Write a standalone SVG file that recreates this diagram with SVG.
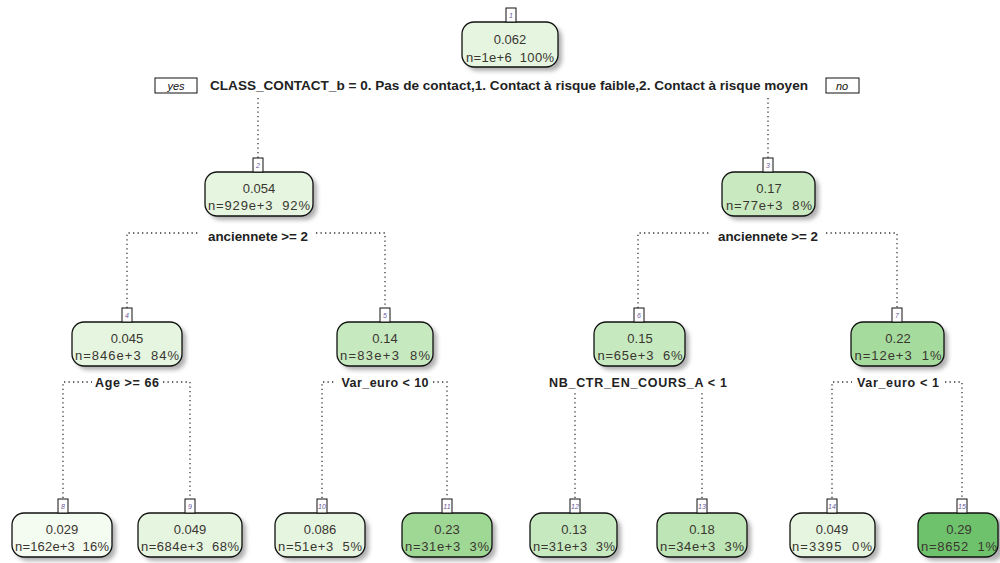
<svg xmlns="http://www.w3.org/2000/svg" width="1000" height="563" viewBox="0 0 1000 563">
<defs>
<filter id="blur" x="-20%" y="-20%" width="140%" height="140%"><feGaussianBlur stdDeviation="2"/></filter>
<style>
.bx{stroke:#111;stroke-width:1.3}
.sh{fill:#b0b0b0;filter:url(#blur)}
.nb{fill:#fff;stroke:#111;stroke-width:1}
.nn{font-family:"Liberation Sans",Arial,sans-serif;font-size:7px;font-style:italic;fill:#6a5a9a;text-anchor:middle}
.t1{font-family:"Liberation Sans",Arial,sans-serif;font-size:13px;fill:#3a3630;text-anchor:middle}
.t2{font-family:"Liberation Sans",Arial,sans-serif;font-size:13px;fill:#3a3630;text-anchor:middle;white-space:pre}
.sl{font-family:"Liberation Sans",Arial,sans-serif;font-size:12.5px;font-weight:bold;fill:#222;text-anchor:middle}
.dl{fill:none;stroke:#333;stroke-width:1.3;stroke-dasharray:1.3,3.2}
.yn{font-family:"Liberation Sans",Arial,sans-serif;font-size:11px;font-style:italic;fill:#111;text-anchor:middle}
</style>
</defs>
<rect width="1000" height="563" fill="#fff"/>
<g id="connectors">
<path class="dl" d="M258,98 V158 M768,98 V158"/>
<path class="dl" d="M127,308 V233 H200 M316,233 H385 V308"/>
<path class="dl" d="M638,308 V233 H710 M826,233 H897 V308"/>
<path class="dl" d="M63,498 V382 H92 M163,382 H190 V498"/>
<path class="dl" d="M322,498 V382 H336 M433,382 H447 V498"/>
<path class="dl" d="M575,498 V392 M702,498 V392"/>
<path class="dl" d="M832,498 V382 H852 M945,382 H962 V498"/>
</g>
<g id="labels">
<rect x="155" y="78" width="42" height="15" fill="#fff" stroke="#111" stroke-width="1"/>
<text class="yn" x="176" y="90">yes</text>
<rect x="826" y="78" width="33" height="15" fill="#fff" stroke="#111" stroke-width="1"/>
<text class="yn" x="842" y="90">no</text>
<text class="sl" x="509" y="90" font-size="12" textLength="598" lengthAdjust="spacingAndGlyphs">CLASS_CONTACT_b = 0. Pas de contact,1. Contact à risque faible,2. Contact à risque moyen</text>
<text class="sl" x="258" y="241" textLength="100" lengthAdjust="spacingAndGlyphs">anciennete &gt;= 2</text>
<text class="sl" x="768" y="241" textLength="100" lengthAdjust="spacingAndGlyphs">anciennete &gt;= 2</text>
<text class="sl" x="127" y="387" textLength="64">Age &gt;= 66</text>
<text class="sl" x="385" y="387" textLength="87">Var_euro &lt; 10</text>
<text class="sl" x="638" y="387" textLength="178">NB_CTR_EN_COURS_A &lt; 1</text>
<text class="sl" x="898" y="387" textLength="82">Var_euro &lt; 1</text>
</g>
<g id="node1">
<rect class="sh" x="466" y="26" width="96" height="45" rx="12"/>
<rect class="bx" x="462" y="22" width="96" height="45" rx="12" fill="#e5f5e0"/>
<rect class="nb" x="506" y="8" width="10" height="14"/><text class="nn" x="511" y="18">1</text>
<text class="t1" x="510" y="44">0.062</text>
<text class="t2" x="510" y="62" textLength="88">n=1e+6  100%</text>
</g>
<g id="node2">
<rect class="sh" x="209" y="176" width="108" height="44" rx="12"/>
<rect class="bx" x="205" y="172" width="108" height="44" rx="12" fill="#e5f5e0"/>
<rect class="nb" x="253" y="158" width="10" height="14"/><text class="nn" x="258" y="168">2</text>
<text class="t1" x="259" y="193">0.054</text>
<text class="t2" x="259" y="210" textLength="102">n=929e+3  92%</text>
</g>
<g id="node3">
<rect class="sh" x="726" y="176" width="93" height="44" rx="12"/>
<rect class="bx" x="722" y="172" width="93" height="44" rx="12" fill="#c9eac1"/>
<rect class="nb" x="763" y="158" width="10" height="14"/><text class="nn" x="768" y="168">3</text>
<text class="t1" x="769" y="193">0.17</text>
<text class="t2" x="769" y="210" textLength="86">n=77e+3  8%</text>
</g>
<g id="node4">
<rect class="sh" x="76" y="326" width="110" height="44" rx="12"/>
<rect class="bx" x="72" y="322" width="110" height="44" rx="12" fill="#e5f5e0"/>
<rect class="nb" x="122" y="308" width="10" height="14"/><text class="nn" x="127" y="318">4</text>
<text class="t1" x="127" y="343">0.045</text>
<text class="t2" x="127" y="360" textLength="104">n=846e+3  84%</text>
</g>
<g id="node5">
<rect class="sh" x="341" y="326" width="96" height="44" rx="12"/>
<rect class="bx" x="337" y="322" width="96" height="44" rx="12" fill="#c7e9c0"/>
<rect class="nb" x="380" y="308" width="10" height="14"/><text class="nn" x="385" y="318">5</text>
<text class="t1" x="385" y="343">0.14</text>
<text class="t2" x="385" y="360" textLength="90">n=83e+3  8%</text>
</g>
<g id="node6">
<rect class="sh" x="598" y="326" width="91" height="44" rx="12"/>
<rect class="bx" x="594" y="322" width="91" height="44" rx="12" fill="#c7e9c0"/>
<rect class="nb" x="634" y="308" width="10" height="14"/><text class="nn" x="639" y="318">6</text>
<text class="t1" x="640" y="343">0.15</text>
<text class="t2" x="640" y="360" textLength="85">n=65e+3  6%</text>
</g>
<g id="node7">
<rect class="sh" x="855" y="326" width="93" height="44" rx="12"/>
<rect class="bx" x="851" y="322" width="93" height="44" rx="12" fill="#a6db9e"/>
<rect class="nb" x="892" y="308" width="10" height="14"/><text class="nn" x="897" y="318">7</text>
<text class="t1" x="898" y="343">0.22</text>
<text class="t2" x="898" y="360" textLength="87">n=12e+3  1%</text>
</g>
<g id="node8">
<rect class="sh" x="16" y="517" width="100" height="44" rx="12"/>
<rect class="bx" x="12" y="513" width="100" height="44" rx="12" fill="#f4fbf1"/>
<rect class="nb" x="58" y="499" width="10" height="14"/><text class="nn" x="63" y="509">8</text>
<text class="t1" x="62" y="534">0.029</text>
<text class="t2" x="62" y="551" textLength="94">n=162e+3  16%</text>
</g>
<g id="node9">
<rect class="sh" x="142" y="517" width="104" height="44" rx="12"/>
<rect class="bx" x="138" y="513" width="104" height="44" rx="12" fill="#e5f5e0"/>
<rect class="nb" x="185" y="499" width="10" height="14"/><text class="nn" x="190" y="509">9</text>
<text class="t1" x="190" y="534">0.049</text>
<text class="t2" x="190" y="551" textLength="98">n=684e+3  68%</text>
</g>
<g id="node10">
<rect class="sh" x="279" y="517" width="90" height="44" rx="12"/>
<rect class="bx" x="275" y="513" width="90" height="44" rx="12" fill="#e5f5e0"/>
<rect class="nb" x="317" y="499" width="10" height="14"/><text class="nn" x="322" y="509">10</text>
<text class="t1" x="320" y="534">0.086</text>
<text class="t2" x="320" y="551" textLength="84">n=51e+3  5%</text>
</g>
<g id="node11">
<rect class="sh" x="406" y="517" width="90" height="44" rx="12"/>
<rect class="bx" x="402" y="513" width="90" height="44" rx="12" fill="#9fd795"/>
<rect class="nb" x="442" y="499" width="10" height="14"/><text class="nn" x="447" y="509">11</text>
<text class="t1" x="447" y="534">0.23</text>
<text class="t2" x="447" y="551" textLength="84">n=31e+3  3%</text>
</g>
<g id="node12">
<rect class="sh" x="534" y="517" width="87" height="44" rx="12"/>
<rect class="bx" x="530" y="513" width="87" height="44" rx="12" fill="#c7e9c0"/>
<rect class="nb" x="570" y="499" width="10" height="14"/><text class="nn" x="575" y="509">12</text>
<text class="t1" x="574" y="534">0.13</text>
<text class="t2" x="574" y="551" textLength="82">n=31e+3  3%</text>
</g>
<g id="node13">
<rect class="sh" x="661" y="517" width="90" height="44" rx="12"/>
<rect class="bx" x="657" y="513" width="90" height="44" rx="12" fill="#bde5b5"/>
<rect class="nb" x="697" y="499" width="10" height="14"/><text class="nn" x="702" y="509">13</text>
<text class="t1" x="702" y="534">0.18</text>
<text class="t2" x="702" y="551" textLength="84">n=34e+3  3%</text>
</g>
<g id="node14">
<rect class="sh" x="794" y="517" width="85" height="44" rx="12"/>
<rect class="bx" x="790" y="513" width="85" height="44" rx="12" fill="#e5f5e0"/>
<rect class="nb" x="827" y="499" width="10" height="14"/><text class="nn" x="832" y="509">14</text>
<text class="t1" x="832" y="534">0.049</text>
<text class="t2" x="832" y="551" textLength="80">n=3395  0%</text>
</g>
<g id="node15">
<rect class="sh" x="922" y="517" width="82" height="44" rx="12"/>
<rect class="bx" x="918" y="513" width="80" height="44" rx="12" fill="#6fc26c"/>
<rect class="nb" x="957" y="499" width="10" height="14"/><text class="nn" x="962" y="509">15</text>
<text class="t1" x="959" y="534">0.29</text>
<text class="t2" x="959" y="551" textLength="76">n=8652  1%</text>
</g>
</svg>
